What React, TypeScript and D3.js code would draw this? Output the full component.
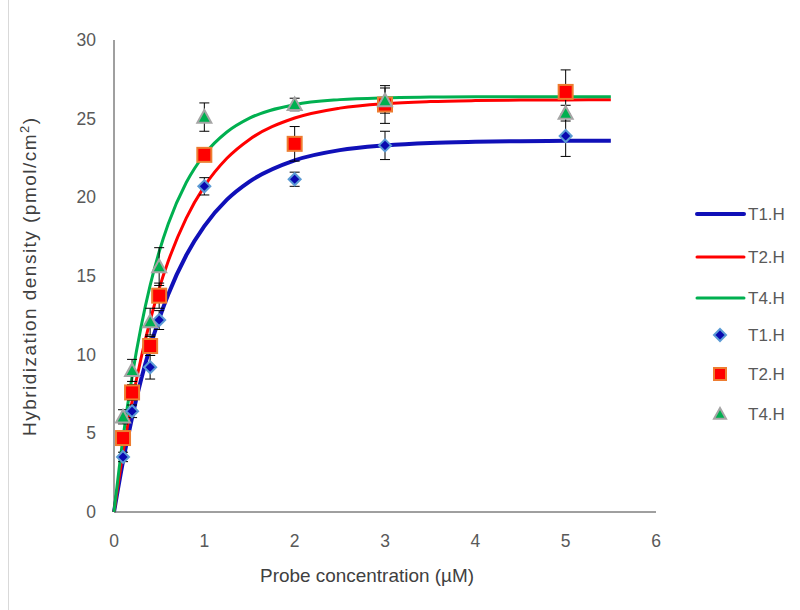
import React from "react";
import * as d3 from "d3";

// Measured points (x in µM)
const pointX = [0.1, 0.2, 0.4, 0.5, 1, 2, 3, 5];
const t1Points = [3.5, 6.4, 9.2, 12.2, 20.7, 21.15, 23.3, 23.9];
const t1Err = [0.3, 0.4, 0.75, 0.6, 0.55, 0.45, 0.9, 1.3];
const t2Points = [4.7, 7.6, 10.55, 13.75, 22.7, 23.4, 25.9, 26.7];
const t2Err = [0.3, 0.5, 0.6, 0.8, 0.3, 1.1, 1.2, 1.4];
const t4Points = [6.05, 9.0, 12.1, 15.6, 25.1, 25.9, 26.15, 25.35];
const t4Err = [0.45, 0.7, 0.85, 1.2, 0.9, 0.4, 0.8, 0.5];

// Fitted curves
const curveX = [0, 0.1, 0.2, 0.3, 0.4, 0.5, 0.6, 0.8, 1.0, 1.25, 1.5, 2.0, 2.5, 3.0, 3.5, 4.0, 4.5, 5.0, 5.5];
const t1Curve = [0, 3.23, 6.01, 8.42, 10.49, 12.28, 13.83, 16.32, 18.17, 19.85, 21.0, 22.35, 23.0, 23.3, 23.46, 23.53, 23.57, 23.59, 23.6];
const t2Curve = [0, 3.78, 7.02, 9.79, 12.16, 14.2, 15.93, 18.68, 20.7, 22.48, 23.68, 25.04, 25.67, 25.96, 26.09, 26.15, 26.18, 26.19, 26.2];
const t4Curve = [0, 4.73, 8.6, 11.78, 14.4, 16.54, 18.3, 20.94, 22.72, 24.15, 25.03, 25.89, 26.21, 26.33, 26.37, 26.39, 26.4, 26.4, 26.4];

const xTicks = [0, 1, 2, 3, 4, 5, 6];
const yTicks = [0, 5, 10, 15, 20, 25, 30];
const seriesNames = ["T1.H", "T2.H", "T4.H"];

const FONT = "'Liberation Sans', Arial, sans-serif";
const TXT = "#595959";

export default function App() {
  const x = d3.scaleLinear().domain([0, 6]).range([114, 656]);
  const y = d3.scaleLinear().domain([0, 30]).range([512, 40]);

  const line = d3
    .line<number>()
    .x((_, i) => x(curveX[i]))
    .y((d) => y(d))
    .curve(d3.curveMonotoneX);

  const curves = [
    { data: t1Curve, color: "#1010B8", w: 4 },
    { data: t2Curve, color: "#FF0000", w: 3 },
    { data: t4Curve, color: "#00B050", w: 3 },
  ];

  const diamond = (cx: number, cy: number, r: number) =>
    `M${cx},${cy - r}L${cx + r},${cy}L${cx},${cy + r}L${cx - r},${cy}Z`;
  const tri = (cx: number, cy: number, r: number) =>
    `M${cx},${cy - r}L${cx + r},${cy + r * 0.8}L${cx - r},${cy + r * 0.8}Z`;

  const errBars = (vals: number[], errs: number[], key: string) =>
    vals.map((v, i) => {
      const cx = x(pointX[i]);
      const y1 = y(v + errs[i]);
      const y2 = y(v - errs[i]);
      return (
        <g key={key + i} stroke="#000" strokeWidth={1}>
          <line x1={cx} x2={cx} y1={y1} y2={y2} />
          <line x1={cx - 5} x2={cx + 5} y1={y1} y2={y1} />
          <line x1={cx - 5} x2={cx + 5} y1={y2} y2={y2} />
        </g>
      );
    });

  const legendY = [214, 257, 298, 335, 374, 414];

  return (
    <svg
      width={800}
      height={610}
      style={{ position: "absolute", left: 0, top: 0, background: "#fff" }}
    >
      <rect x={0} y={0} width={800} height={610} fill="#fff" />
      <line x1={8.5} x2={8.5} y1={0} y2={610} stroke="#D9D9D9" strokeWidth={1} />

      {/* axes */}
      <line x1={114} x2={114} y1={y(30)} y2={y(0)} stroke="#404040" strokeWidth={1} />
      <line x1={114} x2={656} y1={y(0)} y2={y(0)} stroke="#404040" strokeWidth={1} />

      {yTicks.map((t) => (
        <text key={"y" + t} x={96} y={y(t)} dy="0.35em" textAnchor="end" fontFamily={FONT} fontSize={17.5} fill={TXT}>
          {t}
        </text>
      ))}
      {xTicks.map((t) => (
        <text key={"x" + t} x={x(t)} y={547} textAnchor="middle" fontFamily={FONT} fontSize={17.5} fill={TXT}>
          {t}
        </text>
      ))}

      <text x={367} y={582} textAnchor="middle" fontFamily={FONT} fontSize={19} fill="#404040"
        textLength={214} lengthAdjust="spacingAndGlyphs">
        Probe concentration (µM)
      </text>
      <text
        transform="translate(36,277) rotate(-90)"
        textAnchor="middle"
        fontFamily={FONT}
        fontSize={19}
        fill="#404040"
        textLength={318}
        lengthAdjust="spacing"
      >
        Hybridization density (pmol/cm<tspan dy={-7} fontSize={13}>2</tspan><tspan dy={7}>)</tspan>
      </text>

      {/* curves */}
      {curves.map((c, i) => (
        <path key={"c" + i} d={line(c.data) || ""} fill="none" stroke={c.color} strokeWidth={c.w} />
      ))}

      {/* error bars */}
      {errBars(t1Points, t1Err, "e1")}
      {errBars(t2Points, t2Err, "e2")}
      {errBars(t4Points, t4Err, "e4")}

      {/* markers */}
      {t1Points.map((v, i) => (
        <path key={"m1" + i} d={diamond(x(pointX[i]), y(v), 6)} fill="#0A0AB0" stroke="#5B9BD5" strokeWidth={2} />
      ))}
      {t2Points.map((v, i) => (
        <rect key={"m2" + i} x={x(pointX[i]) - 7} y={y(v) - 7} width={14} height={14} fill="#FF0000" stroke="#ED7D31" strokeWidth={2} />
      ))}
      {t4Points.map((v, i) => (
        <path key={"m4" + i} d={tri(x(pointX[i]), y(v), 7)} fill="#00B050" stroke="#A5A5A5" strokeWidth={2} />
      ))}

      {/* legend */}
      {curves.map((c, i) => (
        <g key={"lg" + i}>
          <line x1={697} x2={744} y1={legendY[i]} y2={legendY[i]} stroke={c.color} strokeWidth={c.w} strokeLinecap="round" />
          <text x={748} y={legendY[i]} dy="0.35em" fontFamily={FONT} fontSize={17} fill={TXT}>
            {seriesNames[i]}
          </text>
        </g>
      ))}
      <path d={diamond(720, legendY[3], 6)} fill="#0A0AB0" stroke="#5B9BD5" strokeWidth={2} />
      <text x={748} y={legendY[3]} dy="0.35em" fontFamily={FONT} fontSize={17} fill={TXT}>{seriesNames[0]}</text>
      <rect x={714} y={legendY[4] - 6} width={12} height={12} fill="#FF0000" stroke="#ED7D31" strokeWidth={2} />
      <text x={748} y={legendY[4]} dy="0.35em" fontFamily={FONT} fontSize={17} fill={TXT}>{seriesNames[1]}</text>
      <path d={tri(720, legendY[5], 6)} fill="#00B050" stroke="#A5A5A5" strokeWidth={2} />
      <text x={748} y={legendY[5]} dy="0.35em" fontFamily={FONT} fontSize={17} fill={TXT}>{seriesNames[2]}</text>
    </svg>
  );
}
